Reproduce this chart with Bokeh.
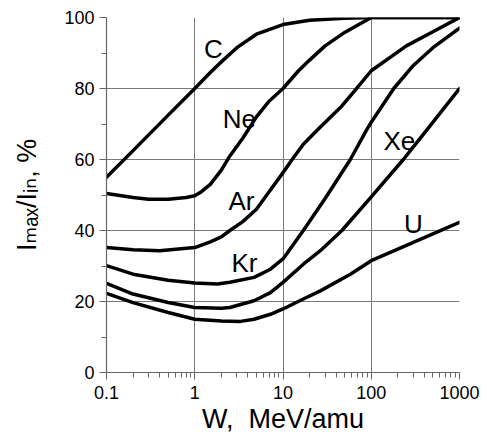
from bokeh.plotting import figure
from bokeh.models import FixedTicker
from bokeh.core.properties import value
from bokeh.embed import file_html
from bokeh.resources import INLINE

FONT = "Liberation Sans"

# ---- data (W in MeV/amu, Imax/Iin in %) ----
w_C = [0.1, 0.2, 0.5, 1, 1.5, 2, 3, 5, 10, 20, 50, 100, 1000]
i_C = [55, 62.5, 72.5, 80, 84.5, 87.5, 91.5, 95.3, 98, 99.2, 99.8, 100, 100]

w_Ne = [0.1, 0.2, 0.3, 0.5, 0.8, 1, 1.2, 1.5, 2, 2.5, 3.5, 5, 7, 10, 15, 20, 30, 50, 100, 1000]
i_Ne = [50.4, 49.3, 48.8, 48.8, 49.3, 49.8, 51, 53, 57, 61, 66, 72, 76.5, 80, 85, 88, 92, 95.8, 100, 100]

w_Ar = [0.1, 0.2, 0.4, 1, 1.5, 2, 2.5, 3.5, 5, 7, 10, 12.7, 17, 25, 45, 63, 100, 250, 500, 1000]
i_Ar = [35.2, 34.6, 34.3, 35.2, 36.8, 38.2, 40, 42.5, 46, 51, 56.3, 60, 64.3, 68.5, 74.7, 79, 85, 92, 96, 100]

w_Kr = [0.1, 0.2, 0.5, 1, 1.8, 2.5, 4.7, 7.2, 10, 17, 30, 58, 87, 100, 180, 300, 500, 1000]
i_Kr = [30.1, 27.7, 26, 25.2, 24.9, 25.4, 26.8, 29.1, 32, 40, 49, 60, 68, 70.5, 80, 86.5, 91.5, 97]

w_Xe = [0.1, 0.2, 0.5, 1, 2, 2.5, 4.7, 7.2, 10, 17, 26.5, 46.5, 100, 231, 360, 1000]
i_Xe = [25.1, 22.1, 19.7, 18.3, 18.1, 18.3, 20.2, 22.5, 25.4, 30.5, 34.3, 40, 49.5, 60, 66, 80]

w_U = [0.1, 0.2, 0.5, 1, 2, 3.3, 4.7, 7.2, 10, 17, 26.5, 58, 100, 1000]
i_U = [22.3, 19.7, 16.9, 15, 14.5, 14.4, 15, 16.4, 17.9, 20.7, 23, 27.7, 31.5, 42.3]

ion_names = ["C", "Ne", "Ar", "Kr", "Xe", "U"]

x_ticks = [0.1, 1, 10, 100, 1000]
x_minor = [m * 10 ** e for e in range(-1, 3) for m in range(2, 10)]
y_ticks = [0, 20, 40, 60, 80, 100]
y_minor = [10, 30, 50, 70, 90]

x_title = "W,\u00a0 MeV/amu"
y_title = "I\u2098\u2090\u2093/I\u1d62\u2099, %"

# anchor positions for the ion names (data coords)
name_x = [1.63, 3.2, 3.38, 3.66, 208, 300]
name_y = [91.2, 71.4, 48.4, 30.9, 65.2, 41.9]

p = figure(width=489, height=442, x_axis_type="log",
           x_range=(0.1, 1000), y_range=(0, 100),
           output_backend="svg", toolbar_location=None,
           min_border_left=106, min_border_right=30,
           min_border_top=17, min_border_bottom=70)
p.outline_line_color = None
p.background_fill_color = "white"
p.border_fill_color = "white"

for w, i in [(w_C, i_C), (w_Ne, i_Ne), (w_Ar, i_Ar), (w_Kr, i_Kr), (w_Xe, i_Xe), (w_U, i_U)]:
    p.line(w, i, line_color="black", line_width=3.5, line_join="round", line_cap="round")

p.text(x=name_x, y=name_y, text=ion_names, text_font=value(FONT),
       text_font_size="26px", text_align="center", text_baseline="middle",
       text_color="black")

axis_col = "#666666"
p.xaxis.ticker = FixedTicker(ticks=x_ticks, minor_ticks=x_minor)
p.yaxis.ticker = FixedTicker(ticks=y_ticks, minor_ticks=y_minor)
p.xaxis.major_label_overrides = {0.1: "0.1", 1: "1", 10: "10", 100: "100", 1000: "1000"}
for ax in (p.xaxis[0], p.yaxis[0]):
    ax.axis_line_color = axis_col
    ax.axis_line_width = 1.2
    ax.major_tick_line_color = axis_col
    ax.minor_tick_line_color = axis_col
    ax.major_tick_in = 0
    ax.major_tick_out = 7
    ax.minor_tick_in = 0
    ax.minor_tick_out = 5
    ax.major_label_text_font = FONT
    ax.major_label_text_font_size = "18px"
    ax.major_label_text_color = "black"
    ax.axis_label_text_font = "Liberation Sans, DejaVu Sans"
    ax.axis_label_text_font_style = "normal"
    ax.axis_label_text_color = "black"
    ax.axis_label_text_font_size = "27px"
p.xaxis.major_label_standoff = 6
p.yaxis.major_label_standoff = 5
p.xaxis.axis_label = x_title
p.xaxis.axis_label_standoff = 2
p.yaxis.axis_label = y_title
p.yaxis.axis_label_standoff = 19

p.xgrid.grid_line_color = "#7a7a7a"
p.ygrid.grid_line_color = "#7a7a7a"
p.xgrid.grid_line_width = 1
p.ygrid.grid_line_width = 1

open("out.html", "w").write(file_html(p, INLINE))
